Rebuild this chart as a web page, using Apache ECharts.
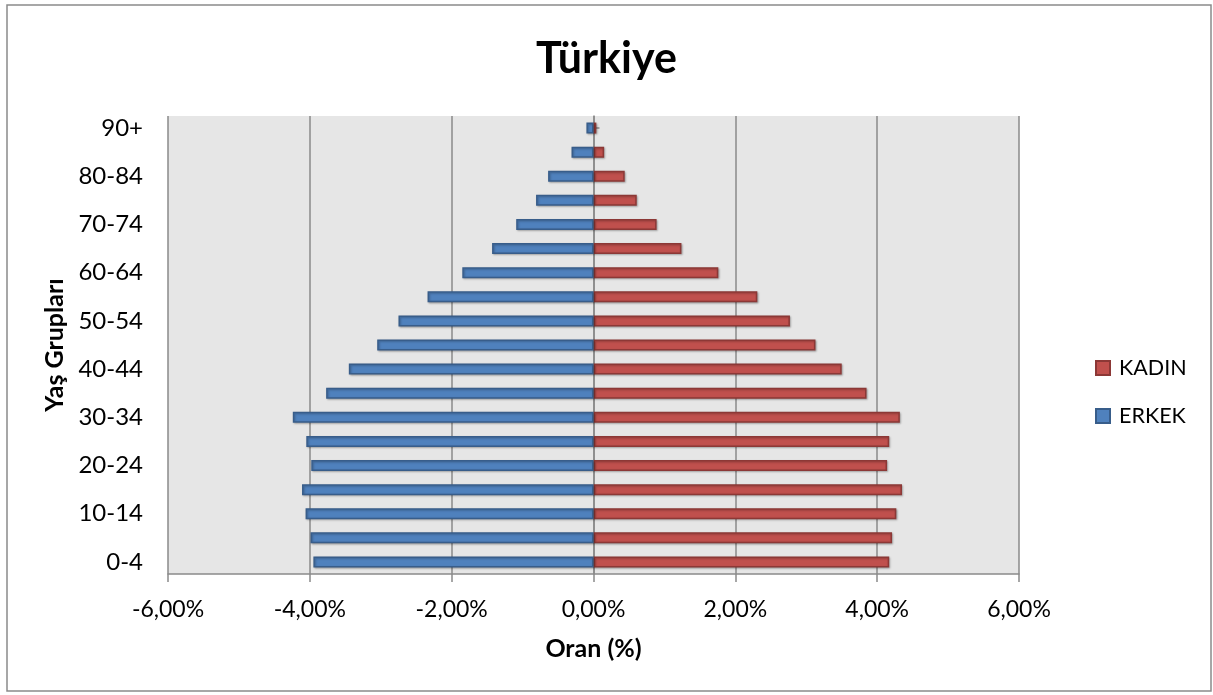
<!DOCTYPE html>
<html>
<head>
<meta charset="utf-8">
<script src="https://cdn.jsdelivr.net/npm/echarts@6/dist/echarts.min.js"></script>
<style>
html,body{margin:0;padding:0;background:#fff;}
#c{width:1213px;height:695px;}
</style>
</head>
<body>
<div id="c"></div>
<script>
const categories = ['0-4','5-9','10-14','15-19','20-24','25-29','30-34','35-39','40-44','45-49','50-54','55-59','60-64','65-69','70-74','75-79','80-84','85-89','90+'];
const erkek = [-3.95,-3.99,-4.06,-4.11,-3.98,-4.05,-4.24,-3.77,-3.45,-3.05,-2.75,-2.34,-1.85,-1.43,-1.09,-0.81,-0.64,-0.31,-0.10];
const kadin = [4.17,4.21,4.27,4.35,4.14,4.17,4.32,3.85,3.50,3.13,2.77,2.31,1.76,1.24,0.89,0.61,0.44,0.15,0.04];
const xTicks = {min:-6, max:6, interval:2};

const FONT = 'Lato, "Open Sans", sans-serif';
const chart = echarts.init(document.getElementById('c'));
const fmt = v => (Math.abs(v) < 1e-9 ? 0 : v).toFixed(2).replace('.', ',') + '%';
const GRAY = '#8a8a8a';

chart.setOption({
  animation: false,
  textStyle: {fontFamily: FONT},
  graphic: [{
    type: 'rect', shape: {x: 7, y: 5, width: 1204, height: 686},
    style: {fill: 'none', stroke: GRAY, lineWidth: 1.5}, silent: true, z: -10
  }],
  title: {
    text: 'Türkiye', left: 'center', top: 33,
    textStyle: {fontFamily: FONT, fontWeight: 'bold', fontSize: 43, color: '#000'}
  },
  legend: {
    data: ['KADIN', 'ERKEK'], orient: 'vertical', left: 1090, top: 351,
    itemWidth: 14, itemHeight: 14, itemGap: 24,
    textStyle: {fontFamily: FONT, fontSize: 21.5, color: '#000', lineHeight: 24, padding: [0, 0, 0, 4]},
    icon: 'rect'
  },
  grid: {left: 168, top: 116, width: 851, bottom: 121, show: true, backgroundColor: '#e6e6e6', borderWidth: 0},
  xAxis: [{
    type: 'value', min: xTicks.min, max: xTicks.max, interval: xTicks.interval,
    name: 'Oran (%)', nameLocation: 'middle', nameGap: 62,
    nameTextStyle: {fontFamily: FONT, fontWeight: 'bold', fontSize: 25, color: '#000'},
    axisLine: {show: true, onZero: false, lineStyle: {color: GRAY, width: 1.5}},
    axisTick: {show: true, length: 8, lineStyle: {color: GRAY, width: 1.5}},
    axisLabel: {formatter: fmt, fontFamily: FONT, fontSize: 23, color: '#000', margin: 24},
    splitLine: {show: true, lineStyle: {color: GRAY, width: 1.5}}
  }, {
    type: 'value', min: xTicks.min, max: xTicks.max, interval: xTicks.interval, position: 'top',
    axisLine: {show: false, onZero: false}, axisTick: {show: false}, axisLabel: {show: false}, splitLine: {show: false}
  }],
  yAxis: [{
    type: 'category', data: categories, position: 'left',
    name: 'Yaş Grupları', nameLocation: 'middle', nameGap: 97, nameRotate: 90,
    nameTextStyle: {fontFamily: FONT, fontWeight: 'bold', fontSize: 25, color: '#000'},
    axisLine: {show: false}, axisTick: {show: false},
    axisLabel: {interval: 1, fontFamily: FONT, fontSize: 24, color: '#000', margin: 25}
  }, {
    type: 'category', data: categories, position: 'left',
    axisLine: {show: true, onZero: true, onZeroAxisIndex: 0, lineStyle: {color: GRAY, width: 1.5}},
    axisTick: {show: true, alignWithLabel: true, interval: 0, length: 6, lineStyle: {color: GRAY, width: 1.5}},
    axisLabel: {show: false}
  }, {
    type: 'category', data: categories, position: 'right',
    axisLine: {show: false, onZero: true, onZeroAxisIndex: 1},
    axisTick: {show: true, alignWithLabel: true, interval: 0, length: 6, lineStyle: {color: GRAY, width: 1.5}},
    axisLabel: {show: false}
  }],
  series: [{
    name: 'KADIN', type: 'bar', data: kadin, yAxisIndex: 0, barWidth: 11, barGap: '-100%',
    itemStyle: {color: '#c0504d', borderColor: '#8c3836', borderWidth: 1.5,
      shadowColor: 'rgba(0,0,0,0.25)', shadowBlur: 2, shadowOffsetX: 1, shadowOffsetY: 1}
  }, {
    name: 'ERKEK', type: 'bar', data: erkek, yAxisIndex: 0, barWidth: 11, barGap: '-100%',
    itemStyle: {color: '#4f81bd', borderColor: '#385d8a', borderWidth: 1.5,
      shadowColor: 'rgba(0,0,0,0.25)', shadowBlur: 2, shadowOffsetX: 1, shadowOffsetY: 1}
  }]
});
</script>
</body>
</html>
